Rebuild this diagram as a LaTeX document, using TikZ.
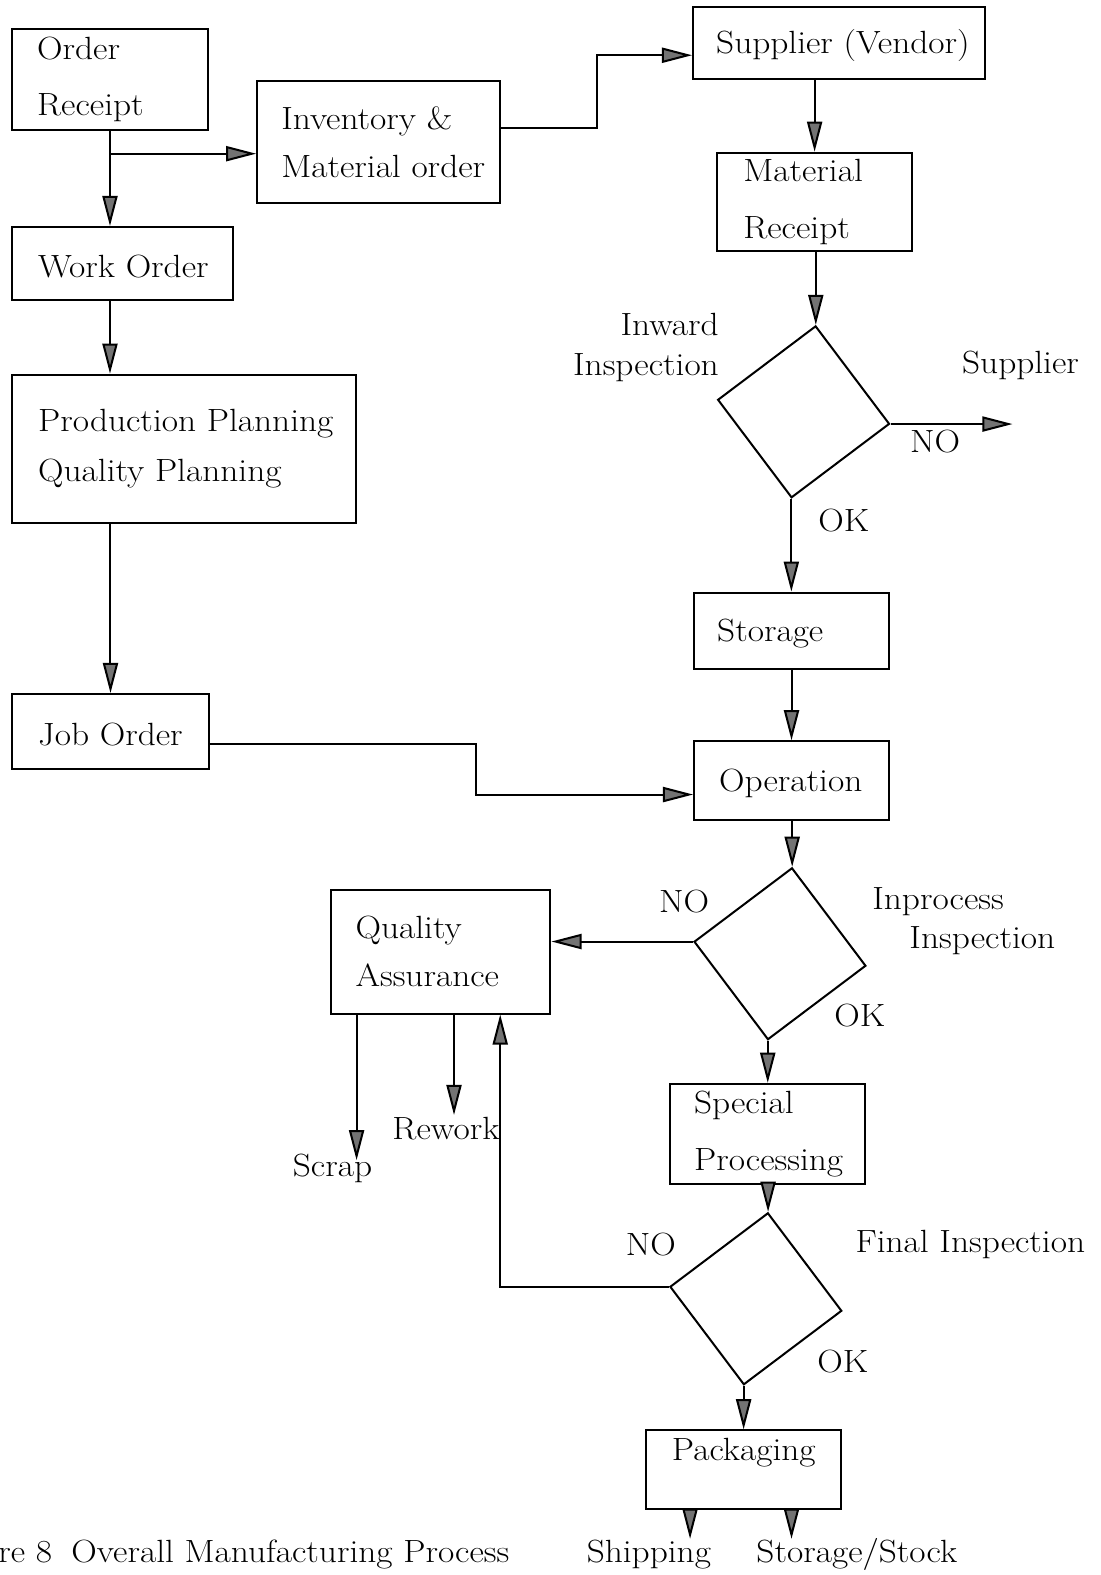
\documentclass[tikz,border=0pt]{standalone}
\usepackage{fontspec}
\setmainfont{Latin Modern Roman}[FakeStretch=1.1]
\usetikzlibrary{arrows.meta}
\begin{document}
\begin{tikzpicture}[x=0.5pt,y=-0.5pt,
  every node/.style={font=\fontsize{16}{19.5}\selectfont},
  box/.style={draw, line width=1pt, align=left, inner ysep=0pt,
    execute at begin node={\hyphenpenalty=10000\relax}},
  bx/.style n args={3}{text width=#1, minimum height=#2, inner xsep=#3},
  oneline/.style={text height=14pt},
  decision/.style={draw, line width=1pt, rectangle, rotate=37,
    minimum size=60.8pt, inner sep=0pt},
  lbl/.style={inner sep=0pt},
  flow/.style={line width=1pt, line join=miter,
    -{Triangle[length=15pt,width=7.5pt,fill=black!55]}}
]
% page
\fill[white] (0,0) rectangle (1096,1568);
\useasboundingbox (0,0) rectangle (1096,1568);

% process boxes
\node[box, bx={72.5pt}{50pt}{12.5pt}] (or) at (109.5,79) {Order\\[8.5pt]Receipt};
\node[box, bx={97pt}{60.5pt}{12pt}] (inv) at (377,141.5) {Inventory \&\\[4.5pt]\mbox{Material order}};
\node[box, oneline, bx={122.5pt}{36pt}{11.5pt}] (sup) at (835.5,43) {\mbox{Supplier (Vendor)}};
\node[box, bx={71pt}{49pt}{13pt}] (mr) at (811,201) {Material\\[8.5pt]Receipt};
\node[box, oneline, bx={84pt}{36.5pt}{13pt}] (wo) at (122,262.5) {\mbox{Work Order}};
\node[box, bx={145pt}{74pt}{13pt}] (pp) at (183,447) {\mbox{Production Planning}\\[5.5pt]\mbox{Quality Planning}};
\node[box, oneline, bx={72pt}{37.5pt}{13pt}] (jo) at (110,728.5) {\mbox{Job Order}};
\node[box, oneline, bx={74pt}{38pt}{11.5pt}] (st) at (788,628) {Storage};
\node[box, oneline, bx={72pt}{39pt}{12.5pt}] (op) at (788,777) {Operation};
\node[box, bx={85pt}{61.5pt}{12pt}] (qa) at (439,947.5) {Quality\\[4.5pt]Assurance};
\node[box, bx={73pt}{50pt}{12pt}] (sp) at (764,1129) {Special\\[9pt]Processing};
\node[box, bx={71pt}{39pt}{13pt}, text depth=20pt] (pk) at (740,1463) {Packaging};

% decisions (tilted squares)
\node[decision] (inw) at (800,410) {};
\node[decision] (inp) at (776.5,949.5) {};
\node[decision] (fin) at (752.5,1293) {};

% labels
\node[lbl, anchor=east, align=right] (inwl) at (716,346) {Inward\\Inspection};
\node[lbl] (supl) at (1016,364) {Supplier};
\node[lbl] (no1) at (931,440) {NO};
\node[lbl] (ok1) at (840,518) {OK};
\node[lbl] (no2) at (681,898) {NO};
\node[lbl, anchor=west, align=left] (inpl) at (868,917) {Inprocess\\\hspace*{18.5pt}Inspection};
\node[lbl] (ok2) at (856,1011) {OK};
\node[lbl] (no3) at (648,1239) {NO};
\node[lbl] (finl) at (966,1239) {Final Inspection};
\node[lbl] (ok3) at (839,1355) {OK};
\node[lbl] (scrap) at (331,1163) {Scrap};
\node[lbl] (rework) at (444,1124) {Rework};
\node[lbl] (ship) at (646,1548) {Shipping};
\node[lbl] (stock) at (853,1548) {Storage/Stock};
\node[lbl, anchor=west] (cap) at (-2,1548) {re 8\hspace{0.6em}Overall Manufacturing Process};

% free ends and bends
\coordinate (split) at (110,153);
\coordinate (vA) at (594,127);
\coordinate (vB) at (594,55);
\coordinate (retend) at (1008,421);
\coordinate (jA) at (474,741);
\coordinate (jB) at (474,791);
\coordinate (qA) at (498,1277);
\coordinate (scrapend) at (355,1155);
\coordinate (reworkend) at (452,1110);
\coordinate (shipend) at (687,1532);
\coordinate (stockend) at (788,1532);

% order side
\draw[flow] (or.south) -- (or.south |- wo.north);
\draw[flow] (split) -- (split -| inv.west);
\draw[flow] (or.south |- wo.south) -- (or.south |- pp.north);
\draw[flow] (jo.north |- pp.south) -- (jo.north);
\draw[flow] (jA -| jo.east) -- (jA) -- (jB) -- (jB -| op.west);

% material side
\draw[flow] (vA -| inv.east) -- (vA) -- (vB) -- (vB -| sup.west);
\draw[flow] (mr.north |- sup.south) -- (mr.north);
\draw[flow] (inw.north east |- mr.south) -- (inw.north east);
\draw[flow] (inw.south east) -- (inw.south east -| retend);
\draw[flow] (inw.south west) -- (inw.south west |- st.north);
\draw[flow] (st.south) -- (op.north);

% production and inspection
\draw[flow] (inp.north east |- op.south) -- (inp.north east);
\draw[flow] (inp.north west) -- (inp.north west -| qa.east);
\draw[flow] (inp.south west) -- (inp.south west |- sp.north);
\draw[flow] (fin.north east |- sp.south) -- (fin.north east);
\draw[flow] (fin.north west) -- (fin.north west -| qA) -- (qA |- qa.south);
\draw[flow] (fin.south west) -- (fin.south west |- pk.north);

% outlets
\draw[flow] (qa.south -| scrapend) -- (scrapend);
\draw[flow] (qa.south -| reworkend) -- (reworkend);
\draw[flow] (pk.south -| shipend) -- (shipend);
\draw[flow] (pk.south -| stockend) -- (stockend);
\end{tikzpicture}
\end{document}
